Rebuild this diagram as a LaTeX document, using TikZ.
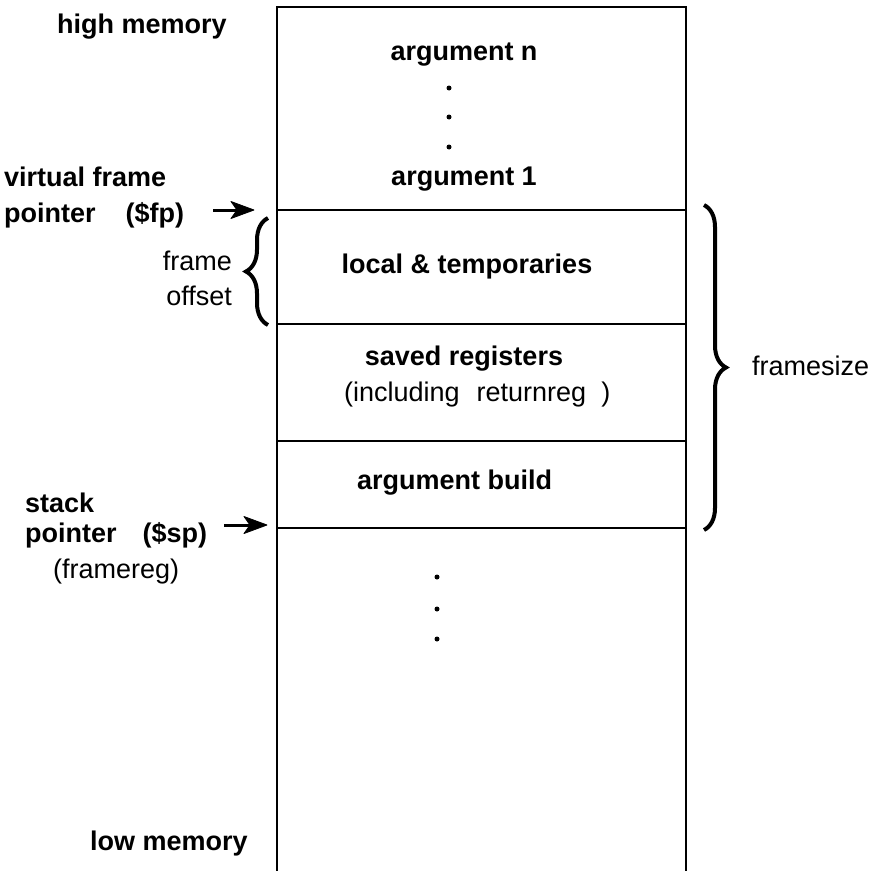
\documentclass[tikz,border=0pt]{standalone}
\usepackage{fontspec}
\setmainfont{Liberation Sans}
\usetikzlibrary{arrows.meta,decorations.pathreplacing,calc}
\begin{document}
\begin{tikzpicture}[x=1pt,y=1pt]
\tikzset{
  lbl/.style={inner sep=0pt,font=\fontsize{27}{32}\selectfont\bfseries},
  rlbl/.style={inner sep=0pt,font=\fontsize{27}{32}\selectfont},
  wall/.style={line width=2.2pt},
  shaft/.style={line width=3pt},
  head/.style={fill=black,draw=black,line width=0.8pt,line join=round},
  brc/.style={line width=4pt,decorate,decoration={brace,amplitude=22pt}},
  dotm/.style={circle,fill,inner sep=0pt,minimum size=5pt}}
\useasboundingbox (0,0) rectangle (877,-870);
% column
\coordinate (TL) at (277,-7);
\coordinate (TR) at (686,-7);
\coordinate (BL) at (277,-872);
\coordinate (BR) at (686,-872);
\draw[wall,line join=miter] (BL) -- (TL) -- (TR) -- (BR);
\coordinate (L1) at (277,-210); \coordinate (R1) at (686,-210);
\coordinate (L2) at (277,-324); \coordinate (R2) at (686,-324);
\coordinate (L3) at (277,-441); \coordinate (R3) at (686,-441);
\coordinate (L4) at (277,-528); \coordinate (R4) at (686,-528);
\draw[wall] (L1) -- (R1);
\draw[wall] (L2) -- (R2);
\draw[wall] (L3) -- (R3);
\draw[wall] (L4) -- (R4);
% texts inside
\node[lbl,anchor=base] (argn) at (464,-60) {argument n};
\node[dotm] (d1) at (449,-88) {};
\node[dotm] (d2) at (449,-117) {};
\node[dotm] (d3) at (449,-147) {};
\node[lbl,anchor=base] (arg1) at (464,-185) {argument 1};
\node[lbl,anchor=base] (loc) at (467,-273) {local \& temporaries};
\node[lbl,anchor=base] (sav) at (464,-365) {saved registers};
\node[rlbl,anchor=base west] (inc) at (344,-401) {(including\hspace{17pt}returnreg\hspace{15pt})};
\node[lbl,anchor=base west] (ab) at (357,-489) {argument build};
\node[dotm] (e1) at (437,-577) {};
\node[dotm] (e2) at (437,-609) {};
\node[dotm] (e3) at (437,-639) {};
% left labels
\node[lbl,anchor=base west] (high) at (57,-33) {high memory};
\node[lbl,anchor=base west] (vf) at (4,-186) {virtual frame};
\node[lbl,anchor=base west] (fp) at (4,-222) {pointer\hspace{30pt}(\$fp)};
\node[rlbl,anchor=base east] (fr) at (232,-270) {frame};
\node[rlbl,anchor=base east] (off) at (232,-305) {offset};
\node[lbl,anchor=base west] (stk) at (25,-512) {stack};
\node[lbl,anchor=base west] (sp) at (25,-542) {pointer\hspace{26pt}(\$sp)};
\node[rlbl,anchor=base west] (freg) at (53,-578) {(framereg)};
\node[lbl,anchor=base west] (low) at (90,-850) {low memory};
% right label
\node[rlbl,anchor=base west] (fs) at (752,-375) {framesize};
% arrows
\coordinate (fpS) at (213,-210); \coordinate (fpE) at (254,-210);
\draw[shaft] (fpS) -- ($(fpE)+(-14,0)$);
\filldraw[head] (fpE) -- ++(-23,8.5) -- ++(6,-8.5) -- ++(-6,-8.5) -- cycle;
\coordinate (spS) at (224,-525); \coordinate (spE) at (267,-525);
\draw[shaft] (spS) -- ($(spE)+(-14,0)$);
\filldraw[head] (spE) -- ++(-23,8.5) -- ++(6,-8.5) -- ++(-6,-8.5) -- cycle;
% braces
\coordinate (lbB) at (268,-325); \coordinate (lbT) at (268,-218);
\draw[brc] (lbB) -- (lbT);
\coordinate (rbT) at (704,-205); \coordinate (rbB) at (704,-530);
\draw[brc] (rbT) -- (rbB);
\end{tikzpicture}
\end{document}
